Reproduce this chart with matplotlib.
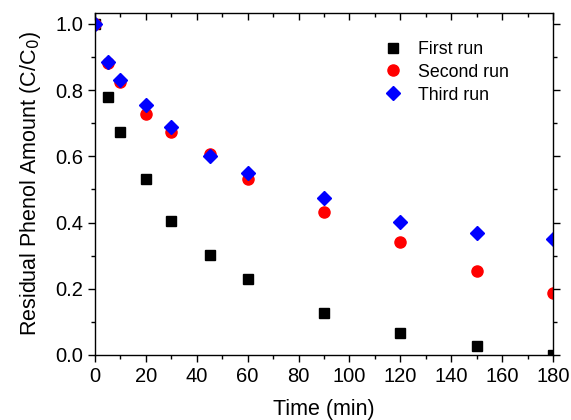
import matplotlib.pyplot as plt
from matplotlib.ticker import MultipleLocator

plt.rcParams['font.family'] = ['Liberation Sans', 'DejaVu Sans']

# Sampling times (min)
time = [0, 5, 10, 20, 30, 45, 60, 90, 120, 150, 180]

# Residual phenol C/C0 for each run
first_run = [1.0, 0.78, 0.675, 0.532, 0.404, 0.302, 0.231, 0.128, 0.065, 0.028, 0.0]
second_run = [1.0, 0.883, 0.826, 0.728, 0.675, 0.607, 0.533, 0.432, 0.341, 0.254, 0.188]
third_run = [1.0, 0.885, 0.832, 0.755, 0.688, 0.601, 0.549, 0.475, 0.402, 0.368, 0.349]

fig = plt.figure(figsize=(5.71, 4.2), dpi=100)
ax = fig.add_axes([95 / 571, 1 - 355 / 420, (553 - 95) / 571, (355 - 13) / 420])

ax.plot(time, first_run, 's', color='black', markersize=7, label='First run')
ax.plot(time, second_run, 'o', color='red', markersize=8, label='Second run')
ax.plot(time, third_run, 'D', color='blue', markersize=7.5, label='Third run')

ax.set_xlim(0, 180)
ax.set_ylim(0, 1.033)
ax.xaxis.set_major_locator(MultipleLocator(20))
ax.xaxis.set_minor_locator(MultipleLocator(10))
ax.yaxis.set_major_locator(MultipleLocator(0.2))
ax.yaxis.set_minor_locator(MultipleLocator(0.1))
ax.yaxis.set_major_formatter(plt.FormatStrFormatter('%.1f'))

ax.tick_params(which='both', direction='out', labelsize=14.5, width=1)
ax.tick_params(which='major', length=5)
ax.tick_params(which='minor', length=3)
ax.tick_params(which='both', top=True, right=True)
for s in ax.spines.values():
    s.set_linewidth(1)

# top/right ticks point inward
for t in ax.xaxis.get_ticklines(minor=False)[1::2] + ax.xaxis.get_ticklines(minor=True)[1::2]:
    t.set_marker(3)
for t in ax.yaxis.get_ticklines(minor=False)[1::2] + ax.yaxis.get_ticklines(minor=True)[1::2]:
    t.set_marker(1)

ax.set_xlabel('Time (min)', fontsize=15.5, labelpad=9.5)
ax.set_ylabel('Residual Phenol Amount (C/C$_0$)', fontsize=15.5, labelpad=9)

ax.legend(loc='upper right', bbox_to_anchor=(0.93, 0.955), frameon=False,
          fontsize=12.8, handletextpad=0.4, labelspacing=0.33, borderaxespad=0.3)

fig.savefig('out.png', dpi=100)
